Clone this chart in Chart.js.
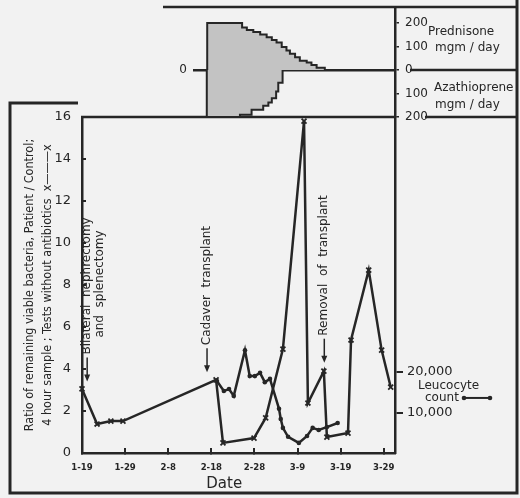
<!DOCTYPE html>
<html>
<head>
<meta charset="utf-8">
<script src="https://cdn.jsdelivr.net/npm/chart.js@4.4.1/dist/chart.umd.min.js"></script>
<style>
  html, body { margin: 0; padding: 0; background: #f2f2f2; }
  #wrap { position: relative; width: 520px; height: 498px; }
  #main, #drugs { position: absolute; left: 0; top: 0; }
</style>
</head>
<body>
<div id="wrap">
  <canvas id="main" width="520" height="498"></canvas>
  <canvas id="drugs" width="520" height="125"></canvas>
</div>
<script>
// days are counted from Jan 19
const tickDays = [0, 10, 20, 30, 40, 50, 60, 70];
const tickLabels = ['1-19', '1-29', '2-8', '2-18', '2-28', '3-9', '3-19', '3-29'];

// ratio of remaining viable bacteria (x——x)
const ratioDays = [0, 3.5, 6.7, 9.5, 31.1, 32.7, 39.9, 42.6, 46.6, 51.5, 52.4, 56.1, 56.8, 61.7, 62.4, 66.5, 69.5, 71.6];
const ratioValues = [3.05, 1.38, 1.52, 1.52, 3.48, 0.48, 0.71, 1.67, 4.95, 15.8, 2.38, 3.9, 0.76, 0.95, 5.38, 8.71, 4.9, 3.14];

// leucocyte count (•——•)
const leucoDays = [31.3, 32.9, 34.1, 35.2, 37.8, 38.9, 40.1, 41.3, 42.4, 43.6, 45.7, 46.1, 46.6, 47.8, 50.3, 52.2, 53.5, 54.9, 56.8, 59.3];
const leucoCounts = [17800, 15300, 15800, 14100, 25400, 19000, 19000, 19800, 17500, 18300, 10900, 8400, 6200, 4000, 2500, 4200, 6200, 5700, 6400, 7400];
const leucoTicks = [10000, 20000];

// drug doses, mgm/day (each dose holds until the next day listed)
const prednisoneDays = [29.0, 37.1, 38.2, 39.7, 41.3, 42.8, 44.0, 45.1, 46.3, 47.4, 48.2, 49.4, 50.5, 52.1, 53.2, 54.4, 56.3];
const prednisoneDose = [200, 181, 170, 162, 151, 139, 128, 117, 98, 83, 69, 54, 39, 32, 21, 10, 0];
const azathioprineDays = [28.9, 36.6, 39.3, 42.0, 43.2, 44.0, 45.0, 45.5, 46.5];
const azathioprineDose = [200, 190, 169, 152, 138, 120, 92, 54, 0];
const doseTicks = [-200, -100, 0, 100, 200];

// events marked with arrows
const eventDays = [1.2, 29, 56.2];
const eventValues = [3.4, 3.85, 4.3];
const eventLabels = [['Bilateral  nephrectomy', 'and  splenectomy'], ['Cadaver  transplant'], ['Removal  of  transplant']];

const ink = '#262626';
const shade = '#c3c3c3';
const font = "'DejaVu Sans', sans-serif";
const narrow = "'DejaVu Sans Condensed', 'DejaVu Sans', sans-serif";

Chart.defaults.color = ink;
Chart.defaults.font.family = font;

const noPad = s => { s.paddingTop = 0; s.paddingBottom = 0; s.paddingLeft = 0; s.paddingRight = 0; };

const mainDecor = {
    id: 'mainDecor',
    afterDraw(chart) {
        const { ctx, chartArea: a, scales: { x, y, y2 } } = chart;
        ctx.save();
        ctx.strokeStyle = ink;
        ctx.fillStyle = ink;

        // top edge of the plot
        ctx.lineWidth = 2.5;
        ctx.beginPath();
        ctx.moveTo(a.left - 1, a.top);
        ctx.lineTo(a.right + 1, a.top);
        ctx.stroke();

        // outer frame
        ctx.lineWidth = 3;
        ctx.beginPath();
        ctx.moveTo(78, 103);
        ctx.lineTo(10, 103);
        ctx.lineTo(10, 493);
        ctx.lineTo(517, 493);
        ctx.lineTo(517, 0);
        ctx.stroke();

        // leucocyte key
        ctx.font = `12px ${font}`;
        ctx.textAlign = 'left';
        ctx.textBaseline = 'middle';
        ctx.fillText('Leucocyte', a.right + 23, y2.getPixelForValue(16500));
        const ky = y2.getPixelForValue(13600);
        ctx.fillText('count', a.right + 30, ky);
        ctx.lineWidth = 2;
        ctx.beginPath();
        ctx.moveTo(a.right + 69, ky);
        ctx.lineTo(a.right + 95, ky);
        ctx.stroke();
        [a.right + 69, a.right + 95].forEach(px => {
            ctx.beginPath();
            ctx.arc(px, ky, 2.3, 0, Math.PI * 2);
            ctx.fill();
        });

        // event arrows and labels
        eventDays.forEach((d, i) => {
            const px = x.getPixelForValue(d);
            const tip = y.getPixelForValue(eventValues[i]);
            const tail = tip - 24;
            ctx.lineWidth = 1.5;
            ctx.beginPath();
            ctx.moveTo(px, tail);
            ctx.lineTo(px, tip - 5);
            ctx.stroke();
            ctx.beginPath();
            ctx.moveTo(px - 3, tip - 7);
            ctx.lineTo(px, tip);
            ctx.lineTo(px + 3, tip - 7);
            ctx.closePath();
            ctx.fill();
            eventLabels[i].forEach((line, j) => {
                ctx.save();
                ctx.translate(px + j * 13, tail - 3 - (j ? 17 : 0));
                ctx.rotate(-Math.PI / 2);
                ctx.textAlign = 'left';
                ctx.textBaseline = 'middle';
                ctx.fillText(line, 0, 0);
                ctx.restore();
            });
        });
        ctx.restore();
    }
};

new Chart(document.getElementById('main'), {
    type: 'line',
    data: {
        datasets: [
            {
                label: 'Ratio, patient / control',
                data: ratioDays.map((d, i) => ({ x: d, y: ratioValues[i] })),
                yAxisID: 'y',
                borderColor: ink, borderWidth: 2.5, tension: 0,
                pointStyle: 'crossRot', pointRadius: 3.5, pointBorderWidth: 1.8,
                pointBorderColor: ink, clip: false
            },
            {
                label: 'Leucocyte count',
                data: leucoDays.map((d, i) => ({ x: d, y: leucoCounts[i] })),
                yAxisID: 'y2',
                borderColor: ink, borderWidth: 2.5, tension: 0,
                pointStyle: 'circle', pointRadius: 2.3, pointBorderWidth: 0,
                pointBackgroundColor: ink, clip: false
            }
        ]
    },
    options: {
        responsive: false,
        animation: false,
        layout: { padding: { top: 117, left: 0, right: 0, bottom: 0 } },
        plugins: { legend: { display: false }, tooltip: { enabled: false } },
        scales: {
            x: {
                type: 'linear', min: 0, max: 72.6,
                afterBuildTicks: s => { s.ticks = tickDays.map(v => ({ value: v })); },
                afterFit: s => { s.height = 45; noPad(s); },
                ticks: {
                    callback: v => tickLabels[tickDays.indexOf(v)],
                    font: { family: narrow, size: 9.5, weight: 'bold' },
                    padding: 14, maxRotation: 0, autoSkip: false
                },
                grid: { drawOnChartArea: false, tickLength: -5, color: ink, lineWidth: 2 },
                border: { color: ink, width: 2.5 },
                title: { display: true, text: 'Date      ', font: { size: 15 }, padding: { top: 0, bottom: 5 } }
            },
            y: {
                position: 'left', min: 0, max: 16,
                ticks: { stepSize: 2, padding: 15, font: { size: 13 } },
                grid: { drawOnChartArea: false, tickLength: -4, color: ink, lineWidth: 2 },
                border: { color: ink, width: 2.5 },
                afterFit: s => { s.width = 82; noPad(s); },
                title: {
                    display: true,
                    text: ['Ratio of remaining viable bacteria, Patient / Control;',
                           '4 hour sample ; Tests without antibiotics  x———x'],
                    font: { family: narrow, size: 12.5, lineHeight: '18px' },
                    padding: { top: 21, bottom: 0 }
                }
            },
            y2: {
                position: 'right', min: 0, max: 83000,
                afterBuildTicks: s => { s.ticks = leucoTicks.map(v => ({ value: v })); },
                ticks: { callback: v => v.toLocaleString('en-US'), padding: 4, font: { size: 13 } },
                grid: { drawOnChartArea: false, tickLength: 8, color: ink, lineWidth: 2 },
                border: { color: ink, width: 2.5 },
                afterFit: s => { s.width = 125; noPad(s); }
            }
        }
    },
    plugins: [mainDecor]
});

// staircase outline: dose i holds from days[i] until days[i + 1]
const stepOutline = (days, doses, sign) => {
    const pts = [{ x: days[0], y: 0 }];
    days.forEach((d, i) => {
        if (i > 0) pts.push({ x: d, y: sign * doses[i - 1] });
        pts.push({ x: d, y: sign * doses[i] });
    });
    return pts;
};

const drugDecor = {
    id: 'drugDecor',
    afterDraw(chart) {
        const { ctx, chartArea: a, scales: { yr } } = chart;
        ctx.save();
        ctx.strokeStyle = ink;
        ctx.fillStyle = ink;
        ctx.lineWidth = 2.5;
        const y0 = yr.getPixelForValue(0);
        const yb = yr.getPixelForValue(-200);
        ctx.beginPath();
        ctx.moveTo(163, a.top);
        ctx.lineTo(517, a.top);
        ctx.moveTo(a.right + 15, y0);
        ctx.lineTo(517, y0);
        ctx.moveTo(a.right + 30, yb);
        ctx.lineTo(517, yb);
        ctx.stroke();
        ctx.font = `12px ${font}`;
        ctx.textAlign = 'left';
        ctx.textBaseline = 'middle';
        ctx.fillText('Prednisone', a.right + 33, yr.getPixelForValue(162));
        ctx.fillText('mgm / day', a.right + 40, yr.getPixelForValue(94));
        ctx.fillText('Azathioprene', a.right + 39, yr.getPixelForValue(-77));
        ctx.fillText('mgm / day', a.right + 40, yr.getPixelForValue(-149));
        ctx.restore();
    }
};

new Chart(document.getElementById('drugs'), {
    type: 'line',
    data: {
        datasets: [
            {
                label: 'Prednisone',
                data: stepOutline(prednisoneDays, prednisoneDose, 1),
                yAxisID: 'yr', fill: 'origin', tension: 0,
                backgroundColor: shade, borderColor: ink, borderWidth: 2, pointRadius: 0
            },
            {
                label: 'Azathioprene',
                data: stepOutline(azathioprineDays, azathioprineDose, -1),
                yAxisID: 'yr', fill: 'origin', tension: 0,
                backgroundColor: shade, borderColor: ink, borderWidth: 2, pointRadius: 0
            }
        ]
    },
    options: {
        responsive: false,
        animation: false,
        layout: { padding: { top: 7, bottom: 8, left: 0, right: 0 } },
        plugins: { legend: { display: false }, tooltip: { enabled: false } },
        scales: {
            x: { type: 'linear', min: 25.7, max: 72.6, display: false },
            yl: {
                position: 'left', min: -200, max: 268, z: 1,
                afterBuildTicks: s => { s.ticks = [{ value: 0 }]; },
                ticks: { padding: 6, font: { size: 12 } },
                grid: { color: ink, lineWidth: 2.5, drawTicks: false },
                border: { display: false },
                afterFit: s => { s.width = 193; noPad(s); }
            },
            yr: {
                position: 'right', min: -200, max: 268,
                afterBuildTicks: s => { s.ticks = doseTicks.map(v => ({ value: v })); },
                ticks: { callback: v => Math.abs(v), padding: 6, font: { size: 12 } },
                grid: { drawOnChartArea: false, tickLength: 4, color: ink, lineWidth: 1.5 },
                border: { color: ink, width: 2.5 },
                afterFit: s => { s.width = 125; noPad(s); }
            }
        }
    },
    plugins: [drugDecor]
});
</script>
</body>
</html>
